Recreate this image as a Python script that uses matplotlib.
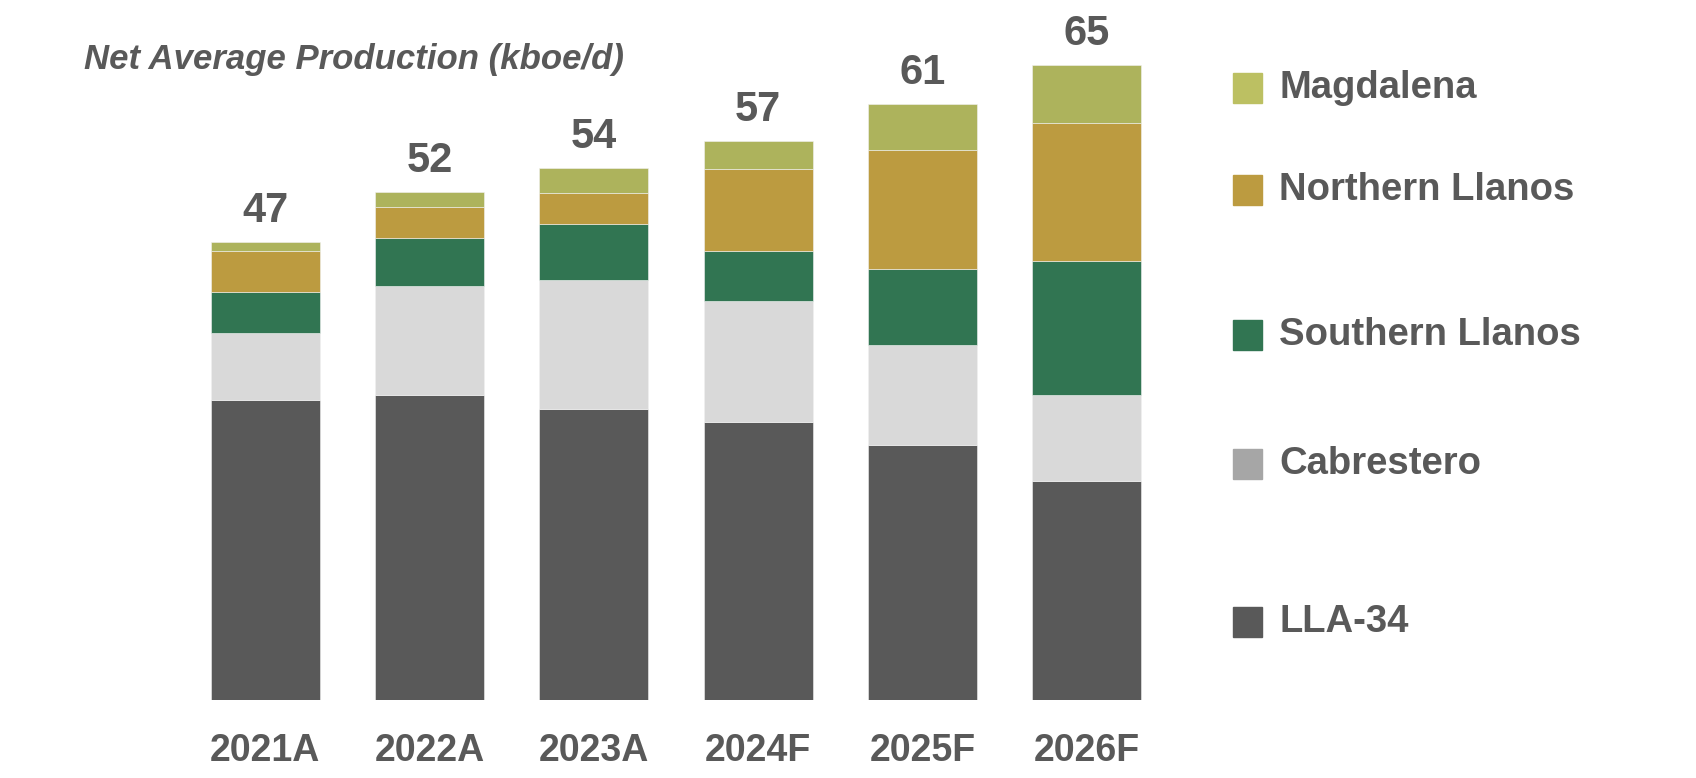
import numpy as np
import matplotlib.pyplot as plt
from matplotlib.patches import Rectangle

years = ['2021A', '2022A', '2023A', '2024F', '2025F', '2026F']
lla34 = [30.7, 31.2, 29.8, 28.5, 26.1, 22.4]
cabrestero = [6.9, 11.2, 13.2, 12.3, 10.2, 8.8]
southern = [4.2, 4.9, 5.7, 5.2, 7.8, 13.7]
northern = [4.1, 3.2, 3.2, 8.3, 12.2, 14.2]
magdalena = [1.0, 1.5, 2.5, 2.9, 4.7, 5.9]
totals = [47, 52, 54, 57, 61, 65]

TXT = '#595959'
SANS = ['Liberation Sans', 'DejaVu Sans']

series = [
	('LLA-34', lla34, '#595959', '#595959'),
	('Cabrestero', cabrestero, '#d9d9d9', '#a6a6a6'),
	('Southern Llanos', southern, '#317552', '#317552'),
	('Northern Llanos', northern, '#bc9b40', '#bc9b40'),
	('Magdalena', magdalena, '#adb35c', '#bcc062'),
]

fig = plt.figure(figsize=(16.96, 7.78), dpi=100)
ax = fig.add_axes([183 / 1696, 78 / 778, 986 / 1696, 684 / 778])

x = np.arange(len(years))
bottom = np.zeros(len(years))
for name, vals, col, _ in series:
	ax.bar(x, vals, 0.664, bottom=bottom, color=col, edgecolor='#f2f2f2', linewidth=0.4)
	bottom += np.array(vals)

for xi, top, t in zip(x, bottom, totals):
	ax.annotate(str(t), (xi, top), xytext=(0, 8), textcoords='offset points',
				ha='center', va='bottom', fontsize=30, fontweight='bold',
				color=TXT, family=SANS)

ax.set_xlim(-0.5, len(years) - 0.5)
ax.set_ylim(0, 70)
ax.set_xticks(x)
ax.set_xticklabels(years, fontsize=27, fontweight='bold', color=TXT, family=SANS)
ax.tick_params(axis='x', length=0, pad=24)
ax.set_yticks([])
for s in ax.spines.values():
	s.set_visible(False)

fig.text(84 / 1696, 1 - 60 / 778, 'Net Average Production (kboe/d)', fontsize=25,
		 fontstyle='italic', fontweight='bold', color=TXT, family=SANS, va='center')

# legend, placed by hand like the slide
leg_y = [88, 190, 335, 464, 622]
for (name, _, _, lcol), yy in zip(series[::-1], leg_y):
	fig.patches.append(Rectangle((1233 / 1696, 1 - (yy + 15) / 778), 29 / 1696, 30 / 778,
								 transform=fig.transFigure, color=lcol))
	fig.text(1279 / 1696, 1 - yy / 778, name, fontsize=27.5, fontweight='bold',
			 color=TXT, family=SANS, va='center')

fig.savefig('out.png', dpi=100)
